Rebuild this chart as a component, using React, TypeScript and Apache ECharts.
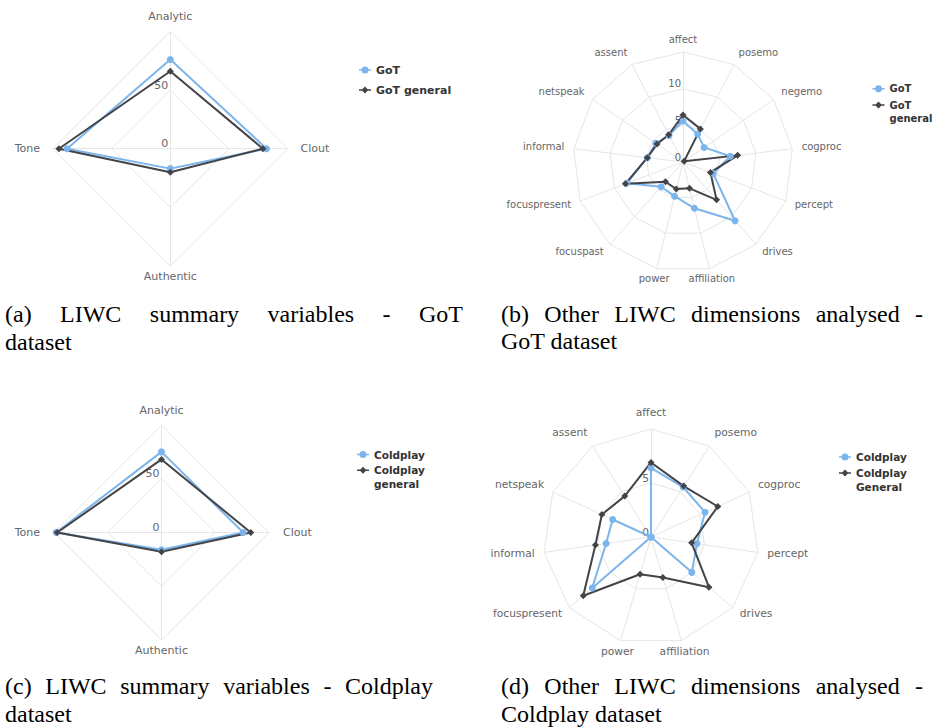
import React, { useEffect, useRef } from 'react';
import * as echarts from 'echarts';

// ---------------- data ----------------
const summaryCats = ['Analytic', 'Clout', 'Authentic', 'Tone'];
const summaryMax = 100;
const summarySplit = 2;
const gotSummary = [76, 82, 17, 88];
const gotGeneralSummary = [66, 79, 20, 95];
const coldplaySummary = [75, 76, 16, 98];
const coldplayGeneralSummary = [68, 83, 18, 97];

const gotDimCats = ['affect', 'posemo', 'negemo', 'cogproc', 'percept', 'drives', 'affiliation', 'power', 'focuspast', 'focuspresent', 'informal', 'netspeak', 'assent'];
const gotDimMax = 15;
const gotDimSplit = 3;
const gotDims = [5.6, 4.3, 3.5, 6.5, 4.4, 10.7, 6.5, 4.8, 4.5, 8.2, 4.9, 4.5, 4.1];
const gotGeneralDims = [6.4, 5.1, 0.2, 7.5, 4.0, 6.9, 3.7, 3.8, 3.6, 8.4, 4.9, 4.3, 4.2];

const coldDimCats = ['affect', 'posemo', 'cogproc', 'percept', 'drives', 'affiliation', 'power', 'focuspresent', 'informal', 'netspeak', 'assent'];
const coldDimMax = 10;
const coldDimSplit = 2;
const coldDims = [6.4, 5.5, 5.5, 4.3, 5.0, 0, 0, 7.2, 4.2, 3.9, 0];
const coldGeneralDims = [6.9, 5.6, 6.8, 3.8, 7.1, 3.9, 3.6, 8.3, 5.2, 5.0, 4.5];

const seriesNames = {
  got: 'GoT',
  gotGeneral: 'GoT general',
  cold: 'Coldplay',
  coldGeneral: 'Coldplay general',
  coldGeneralD: 'Coldplay General',
};

const captionA1 = ['(a)', 'LIWC', 'summary', 'variables', '-', 'GoT'];
const captionA2 = 'dataset';
const captionB1 = ['(b)', 'Other', 'LIWC', 'dimensions', 'analysed', '-'];
const captionB2 = 'GoT dataset';
const captionC1 = ['(c)', 'LIWC', 'summary', 'variables', '-', 'Coldplay'];
const captionC2 = 'dataset';
const captionD1 = ['(d)', 'Other', 'LIWC', 'dimensions', 'analysed', '-'];
const captionD2 = 'Coldplay dataset';

// ---------------- styles ----------------
const SANS = '"DejaVu Sans", "Lucida Grande", sans-serif';
const CAP_FONT_SIZE = 24;
const CAP_FONT = `${CAP_FONT_SIZE}px "Liberation Serif", serif`;
const BLUE = '#7cb5ec';
const DARK = '#434348';
const GRID = '#e6e6e6';
const LABEL = '#666666';

const CIRCLE_ICON = 'path://M0,2.75L2.6,2.75L2.6,4.25L0,4.25Z M9.4,2.75L12,2.75L12,4.25L9.4,4.25Z M2.5,3.5A3.5,3.5,0,1,1,9.5,3.5A3.5,3.5,0,1,1,2.5,3.5Z';
const DIAMOND_ICON = 'path://M0,2.75L3,2.75L3,4.25L0,4.25Z M9,2.75L12,2.75L12,4.25L9,4.25Z M6,0L9.5,3.5L6,7L2.5,3.5Z';

// ECharts lays indicators out counter-clockwise; reorder to get a clockwise layout
const reorder = <T,>(a: T[]): T[] => [a[0], ...a.slice(1).reverse()];

function makeRadar(cats: string[], max: number, split: number, center: number[], radius: number, fs: number, gap: number, ov: Record<string, any>) {
  const indicator = cats.map((name, i) => {
    const o: any = { name, min: 0, max, ...(ov[name] || {}) };
    if (i === 0) o.axisLabel = { show: true };
    return o;
  });
  return {
    center,
    radius,
    startAngle: 90,
    splitNumber: split,
    shape: 'polygon',
    indicator: reorder(indicator),
    axisNameGap: gap,
    axisName: { color: LABEL, fontSize: fs, fontFamily: SANS, rich: { n: {} } },
    axisLine: { show: true, lineStyle: { color: GRID, width: 1 } },
    splitLine: { show: true, lineStyle: { color: GRID, width: 1 } },
    splitArea: { show: false },
    axisTick: { show: false },
    axisLabel: {
      show: false, color: LABEL, fontSize: fs, fontFamily: SANS, margin: 2,
      showMaxLabel: false, padding: [0, 0, 10, 0], rich: { n: {} },
    },
  };
}

function makeSeries(radarIndex: number, name: string, values: number[], color: string, symbol: string) {
  return {
    type: 'radar',
    radarIndex,
    name,
    symbol,
    symbolSize: 7,
    lineStyle: { color, width: 2 },
    itemStyle: { color },
    emphasis: { disabled: true },
    data: [{ name, value: reorder(values) }],
  };
}

function makeLegend(left: number, top: number, fs: number, names: string[], wrapped: string | null, lineH: number, gap: number) {
  return {
    orient: 'vertical',
    left,
    top,
    padding: 0,
    itemGap: gap,
    itemWidth: 12,
    itemHeight: 7,
    selectedMode: false,
    formatter: (n: string) => (wrapped && n === names[1] ? wrapped : n),
    textStyle: { color: '#333333', fontWeight: 'bold', fontSize: fs, fontFamily: SANS, lineHeight: lineH, rich: { n: {} } },
    itemStyle: { borderWidth: 0 },
    data: [
      { name: names[0], icon: CIRCLE_ICON, itemStyle: { color: BLUE, borderWidth: 0 } },
      {
        name: names[1], icon: DIAMOND_ICON, itemStyle: { color: DARK, borderWidth: 0 },
        textStyle: wrapped ? { padding: [lineH, 0, 0, 0] } : {},
      },
    ],
  };
}

function captionElements(): any[] {
  const canvas = document.createElement('canvas');
  const ctx = canvas.getContext('2d') as CanvasRenderingContext2D;
  ctx.font = CAP_FONT;
  const off = CAP_FONT_SIZE * 0.3375;
  const els: any[] = [];
  const txt = (text: string, x: number, baseline: number) => ({
    type: 'text', x, y: baseline - off, silent: true,
    style: { text, font: CAP_FONT, fill: '#000000', align: 'left', verticalAlign: 'middle' },
  });
  const justified = (words: string[], left: number, right: number, baseline: number) => {
    const widths = words.map((w) => ctx.measureText(w).width);
    const total = widths.reduce((s, w) => s + w, 0);
    const gapW = (right - left - total) / (words.length - 1);
    let x = left;
    words.forEach((w, i) => {
      els.push(txt(w, x, baseline));
      x += widths[i] + gapW;
    });
  };
  justified(captionA1, 5, 463, 321.7);
  els.push(txt(captionA2, 5, 350));
  justified(captionB1, 501, 923, 321.7);
  els.push(txt(captionB2, 501, 349.5));
  justified(captionC1, 5, 433, 694.3);
  els.push(txt(captionC2, 5, 722));
  justified(captionD1, 501, 923, 694.3);
  els.push(txt(captionD2, 501, 722));
  return els;
}

export default function App() {
  const ref = useRef<HTMLDivElement>(null);
  useEffect(() => {
    if (!ref.current) return;
    const chart = echarts.init(ref.current, null, { renderer: 'svg' });
    const centerMiddle = { align: 'center', verticalAlign: 'middle' };
    const option: any = {
      animation: false,
      backgroundColor: '#ffffff',
      radar: [
        makeRadar(summaryCats, summaryMax, summarySplit, [170.3, 148.7], 117.3, 11, 13, {
          Analytic: { nameGap: 9 },
          Authentic: { nameGap: 5 },
        }),
        makeRadar(gotDimCats, gotDimMax, gotDimSplit, [683, 162], 110, 10, 9.5, {
          affect: { nameGap: 8 },
          posemo: { nameTextStyle: { padding: [0, 0, 8, 0] } },
          assent: { nameTextStyle: { padding: [0, 0, 8, 0] } },
          negemo: { nameTextStyle: { padding: [0, 0, 6, 0] } },
          netspeak: { nameTextStyle: { padding: [0, 0, 6, 0] } },
          cogproc: { nameTextStyle: { padding: [0, 0, 3, 0] } },
          informal: { nameTextStyle: { padding: [0, 0, 3, 0] } },
          affiliation: { nameGap: 10.5, nameTextStyle: centerMiddle },
          power: { nameGap: 10.5, nameTextStyle: centerMiddle },
        }),
        makeRadar(summaryCats, summaryMax, summarySplit, [161.5, 532.5], 107.5, 11, 14, {
          Analytic: { nameGap: 9 },
          Authentic: { nameGap: 4.5 },
        }),
        makeRadar(coldDimCats, coldDimMax, coldDimSplit, [651, 537], 108, 10.7, 9.5, {
          affect: { nameGap: 11 },
          posemo: { nameTextStyle: { padding: [0, 0, 12, 0] } },
          assent: { nameTextStyle: { padding: [0, 0, 12, 0] } },
          cogproc: { nameTextStyle: { padding: [0, 0, 8, 0] } },
          netspeak: { nameTextStyle: { padding: [0, 0, 8, 0] } },
          affiliation: { nameGap: 11, nameTextStyle: centerMiddle },
          power: { nameGap: 11, nameTextStyle: centerMiddle },
        }),
      ],
      legend: [
        makeLegend(359, 63.5, 11, [seriesNames.got, seriesNames.gotGeneral], null, 13, 7),
        makeLegend(872.5, 82.3, 10, [seriesNames.got, seriesNames.gotGeneral], 'GoT\ngeneral', 13, -9.7),
        makeLegend(357, 447.75, 10.5, [seriesNames.cold, seriesNames.coldGeneral], 'Coldplay\ngeneral', 13.7, -11.7),
        makeLegend(839, 450, 10.5, [seriesNames.cold, seriesNames.coldGeneralD], 'Coldplay\nGeneral', 14, -12),
      ],
      series: [
        makeSeries(0, seriesNames.got, gotSummary, BLUE, 'circle'),
        makeSeries(0, seriesNames.gotGeneral, gotGeneralSummary, DARK, 'diamond'),
        makeSeries(1, seriesNames.got, gotDims, BLUE, 'circle'),
        makeSeries(1, seriesNames.gotGeneral, gotGeneralDims, DARK, 'diamond'),
        makeSeries(2, seriesNames.cold, coldplaySummary, BLUE, 'circle'),
        makeSeries(2, seriesNames.coldGeneral, coldplayGeneralSummary, DARK, 'diamond'),
        makeSeries(3, seriesNames.cold, coldDims, BLUE, 'circle'),
        makeSeries(3, seriesNames.coldGeneralD, coldGeneralDims, DARK, 'diamond'),
      ],
      graphic: { elements: captionElements() },
    };
    chart.setOption(option);
    return () => chart.dispose();
  }, []);
  return <div ref={ref} style={{ position: 'fixed', left: 0, top: 0, width: 933, height: 728, background: '#fff' }} />;
}
